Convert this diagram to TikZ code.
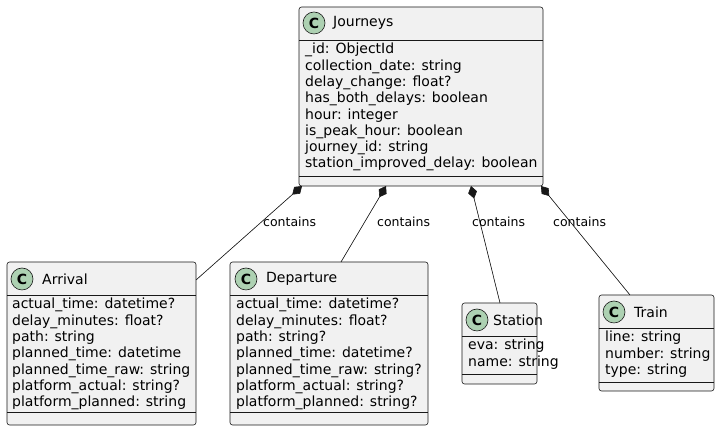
\documentclass[tikz,border=0pt]{standalone}
\usepackage{fontspec}
\setmainfont{DejaVu Sans}
\usetikzlibrary{positioning, arrows.meta}
\definecolor{boxfill}{RGB}{241,241,241}
\definecolor{boxline}{RGB}{24,24,24}
\definecolor{iconfill}{RGB}{173,209,178}
\tikzset{
  clsbox/.style={draw=boxline, fill=boxfill, rounded corners=2.5pt, line width=0.6pt},
  sep/.style={draw=boxline, line width=0.6pt},
  icon/.style={circle, draw=boxline, fill=iconfill, minimum size=22pt, inner sep=0,
    line width=0.6pt, font=\fontsize{14}{14}\selectfont\bfseries},
  title/.style={font=\fontsize{14}{16}\selectfont, inner sep=0},
  attrs/.style={font=\fontsize{14}{16.3}\selectfont, align=left, anchor=north west, inner sep=0},
  comp/.style={{Diamond[length=13pt,width=9pt]}-, draw=boxline, fill=boxline, line width=0.6pt},
  lbl/.style={font=\fontsize{12.5}{14}\selectfont, inner sep=0, anchor=west}
}
\begin{document}
\begin{tikzpicture}[x=1pt,y=1pt]
\useasboundingbox (0,0) rectangle (721,430);

% Journeys
\draw[clsbox] (299,244) rectangle (543,423);
\draw[sep] (299,390) -- (543,390);
\draw[sep] (299,254) -- (543,254);
\node[icon] (jicon) at (314,407) {C};
\node[title, anchor=west] (jtitle) at (333,407) {Journeys};
\node[attrs] (jattrs) at (305,387) {\_id: ObjectId\\collection\_date: string\\delay\_change: float?\\has\_both\_delays: boolean\\hour: integer\\is\_peak\_hour: boolean\\journey\_id: string\\station\_improved\_delay: boolean};

% Arrival
\draw[clsbox] (7,5) rectangle (196,168);
\draw[sep] (7,135) -- (196,135);
\draw[sep] (7,18) -- (196,18);
\node[icon] (aicon) at (22,151) {C};
\node[title, anchor=west] (atitle) at (42,151) {Arrival};
\node[attrs] (aattrs) at (12,132) {actual\_time: datetime?\\delay\_minutes: float?\\path: string\\planned\_time: datetime\\planned\_time\_raw: string\\platform\_actual: string?\\platform\_planned: string};

% Departure
\draw[clsbox] (230,5) rectangle (428,168);
\draw[sep] (230,135) -- (428,135);
\draw[sep] (230,18) -- (428,18);
\node[icon] (dicon) at (246,151) {C};
\node[title, anchor=west] (dtitle) at (266,151) {Departure};
\node[attrs] (dattrs) at (236,132) {actual\_time: datetime?\\delay\_minutes: float?\\path: string?\\planned\_time: datetime?\\planned\_time\_raw: string?\\platform\_actual: string?\\platform\_planned: string?};

% Station
\draw[clsbox] (462,46) rectangle (537,127);
\draw[sep] (462,94) -- (537,94);
\draw[sep] (462,56) -- (537,56);
\node[icon] (sicon) at (477,110) {C};
\node[title, anchor=west] (stitle) at (493,110) {Station};
\node[attrs] (sattrs) at (468,91) {eva: string\\name: string};

% Train
\draw[clsbox] (599,39) rectangle (714,135);
\draw[sep] (599,102) -- (714,102);
\draw[sep] (599,48) -- (714,48);
\node[icon] (ticon) at (614,118) {C};
\node[title, anchor=west] (ttitle) at (634,118) {Train};
\node[attrs] (tattrs) at (605,99) {line: string\\number: string\\type: string};

% connectors
\coordinate (j1) at (302,244);
\coordinate (j2) at (386,244);
\coordinate (j3) at (471,244);
\coordinate (j4) at (541,244);
\coordinate (a) at (196,150);
\coordinate (d) at (341,168);
\coordinate (s) at (500,127);
\coordinate (t) at (630,135);
\draw[comp] (j1) -- (a);
\draw[comp] (j2) -- (d);
\draw[comp] (j3) -- (s);
\draw[comp] (j4) -- (t);
\node[lbl] (l1) at (263,208) {contains};
\node[lbl] (l2) at (377,208) {contains};
\node[lbl] (l3) at (472,208) {contains};
\node[lbl] (l4) at (553,208) {contains};
\end{tikzpicture}
\end{document}
